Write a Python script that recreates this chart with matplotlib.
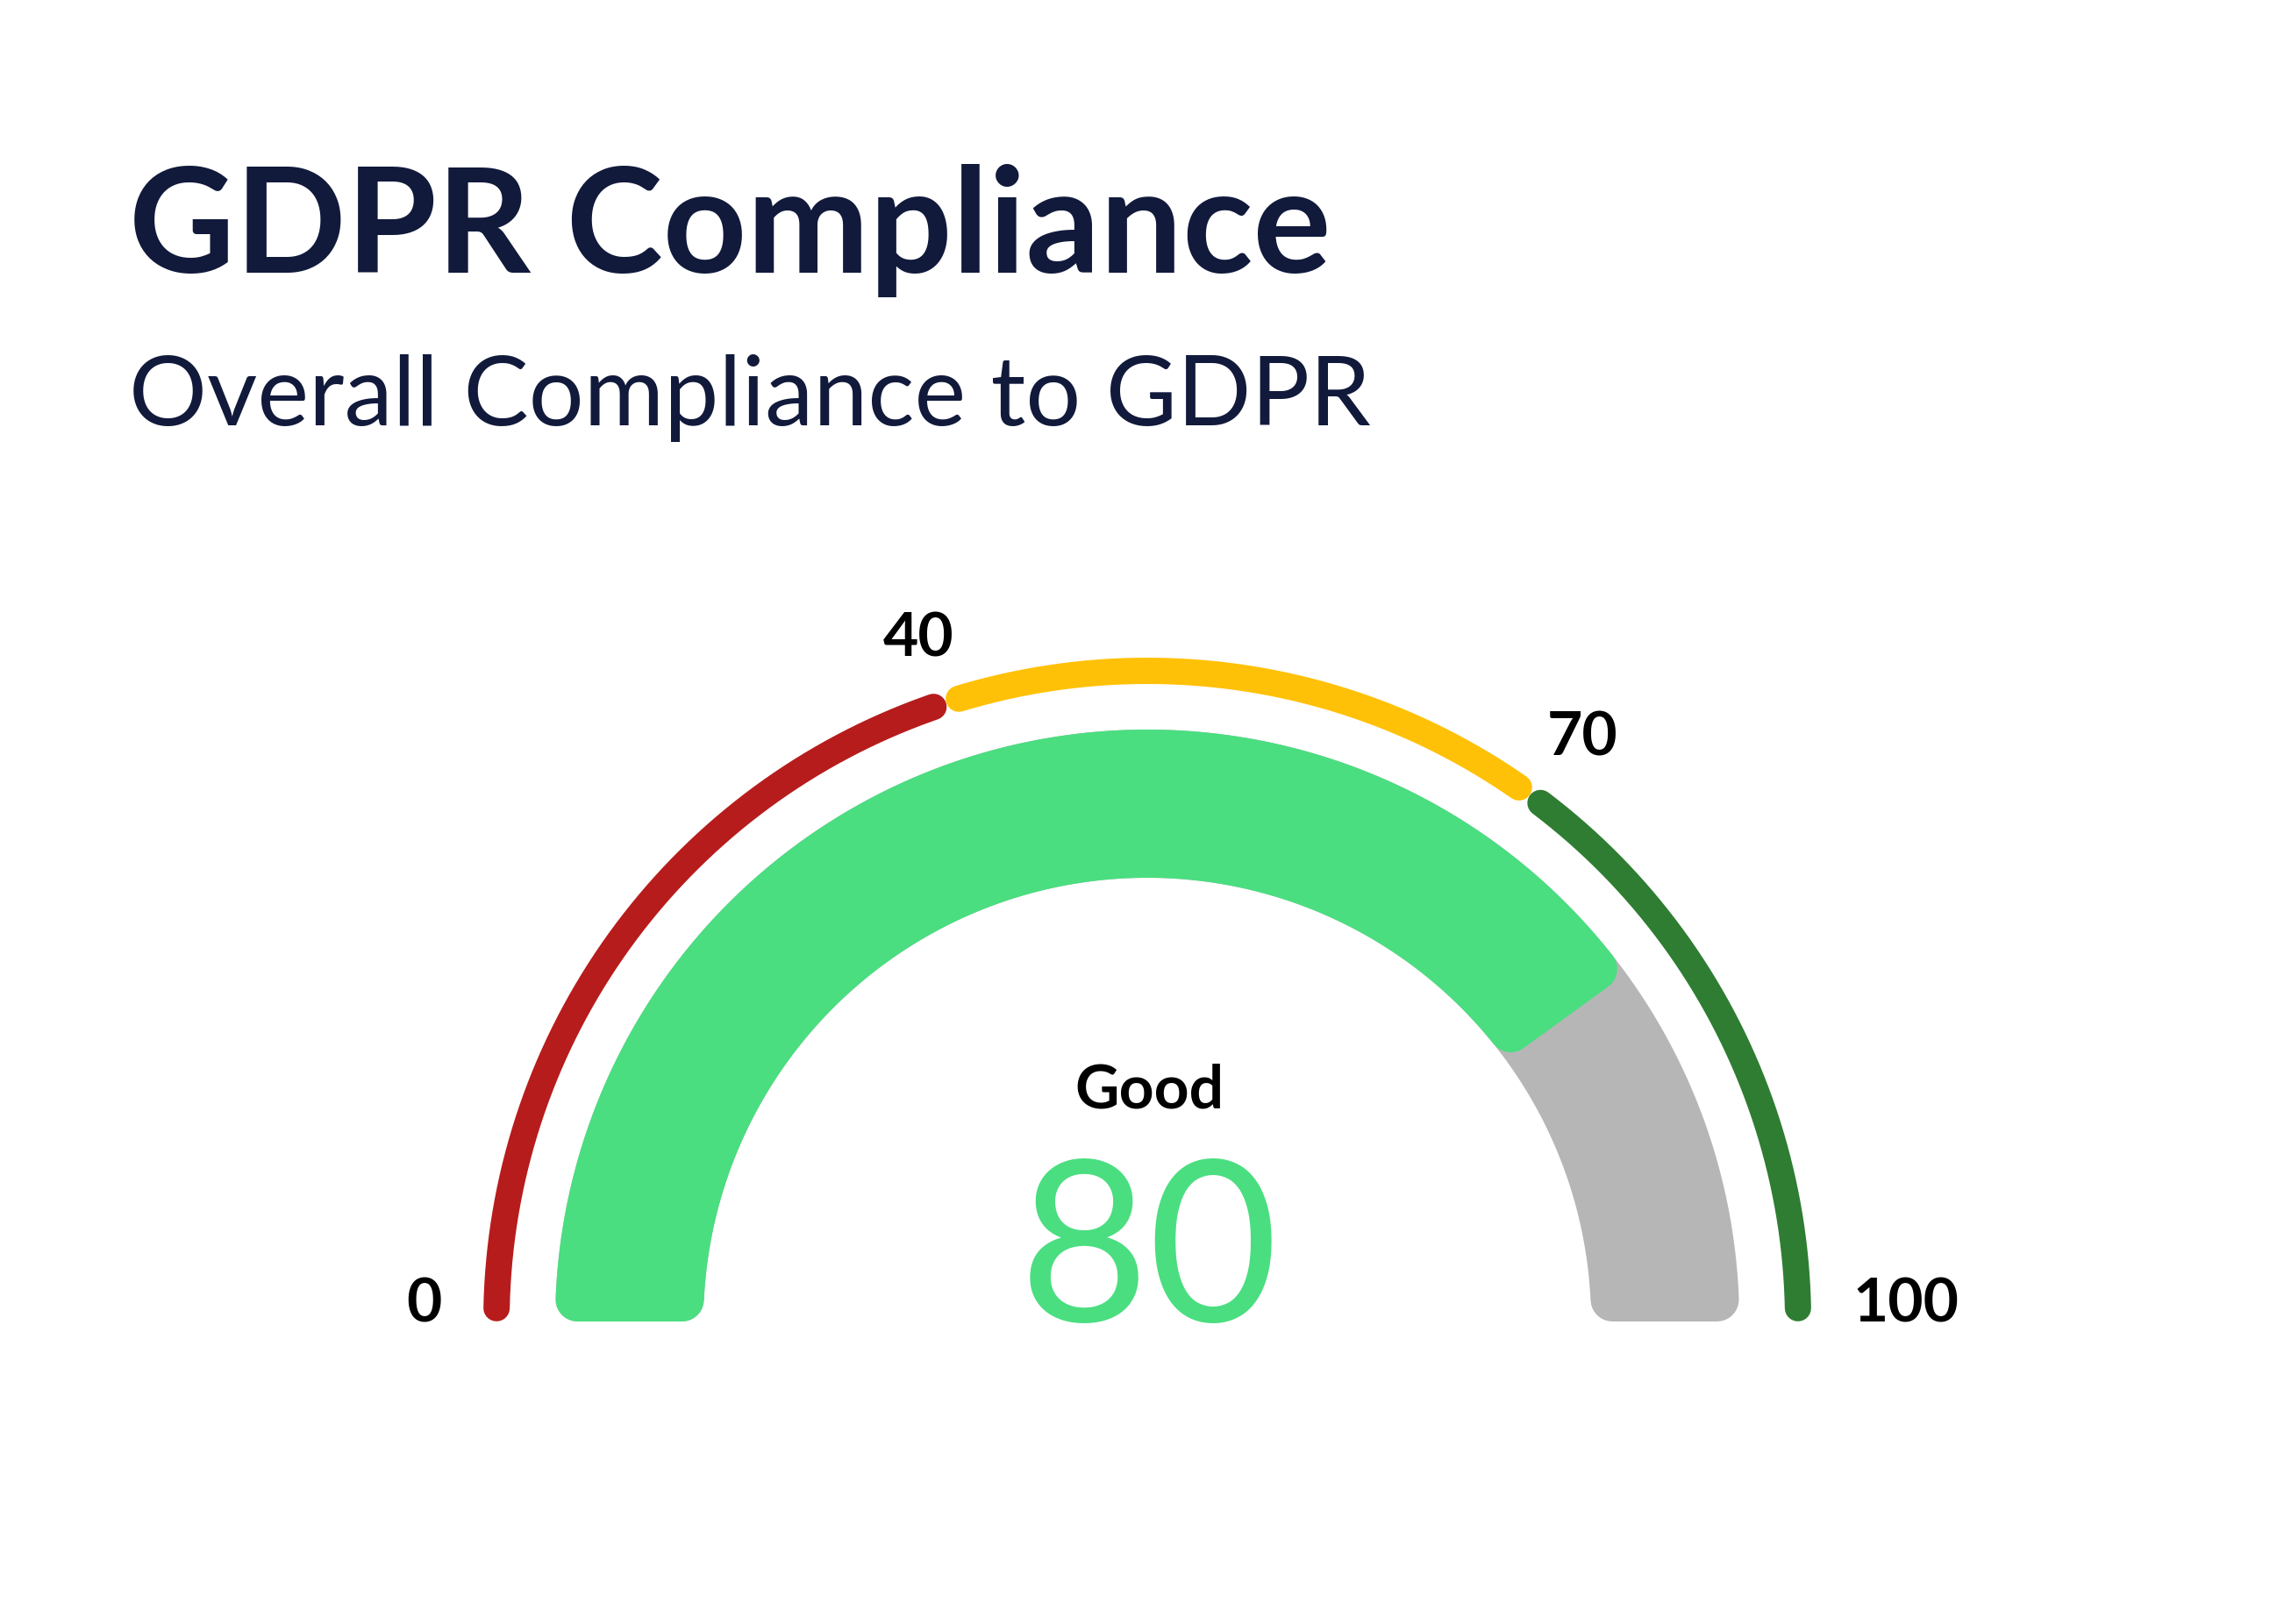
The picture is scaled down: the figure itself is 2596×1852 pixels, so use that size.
import numpy as np
import matplotlib
matplotlib.use("Agg")
import matplotlib.pyplot as plt
from matplotlib.patches import Polygon

# --- dati del grafico ---
title = "GDPR Compliance"
subtitle = "Overall Compliance to GDPR"
score = 80
score_label = "Good"
band_edges = [0, 40, 70, 100]
band_colors = ["#B71C1C", "#FFC107", "#2E7D32"]
tick_values = [0, 40, 70, 100]

W, H = 2596, 1852
fig = plt.figure(figsize=(W / 100, H / 100), dpi=100)
ax = fig.add_axes([0, 0, 1, 1])
ax.set_xlim(0, W)
ax.set_ylim(0, H)
ax.axis('off')

navy = "#111A3B"
fill_green = "#4ADE80"
track_grey = "#B6B6B6"

cx, cy = 1308, H - 1507
r_out, r_in = 675, 506
r_arc = 742
corner = 25
pad = 0.65


def ang(v):
    return np.pi * (1 - v / 100.0)


def rounded_sector(v0, v1, color):
    """Settore anulare con angoli arrotondati (poligono ridotto + bordo tondo)."""
    ro, ri = r_out - corner, r_in + corner
    t0o = ang(v0) - np.arcsin(corner / ro)
    t1o = ang(v1) + np.arcsin(corner / ro)
    t0i = ang(v0) - np.arcsin(corner / ri)
    t1i = ang(v1) + np.arcsin(corner / ri)
    to = np.linspace(t0o, t1o, 300)
    ti = np.linspace(t1i, t0i, 300)
    xs = np.concatenate([cx + ro * np.cos(to), cx + ri * np.cos(ti)])
    ys = np.concatenate([cy + ro * np.sin(to), cy + ri * np.sin(ti)])
    poly = Polygon(np.column_stack([xs, ys]), closed=True, facecolor=color,
                   edgecolor=color, linewidth=2 * corner * 0.72, joinstyle='round')
    ax.add_patch(poly)


# traccia grigia + valore
rounded_sector(0, 100, track_grey)
rounded_sector(0, score, fill_green)

# archi esterni colorati
for i, col in enumerate(band_colors):
    t = np.linspace(ang(band_edges[i] + pad), ang(band_edges[i + 1] - pad), 200)
    ax.plot(cx + r_arc * np.cos(t), cy + r_arc * np.sin(t), color=col,
            lw=30 * 0.72, solid_capstyle='round')

# etichette dei valori: ancoraggio orizzontale che segue l'angolo
renderer = fig.canvas.get_renderer()
for v in tick_values:
    t = ang(v)
    txt = ax.text(0, cy + 798 * np.sin(t), str(v), ha='left', va='baseline',
                  fontsize=50, fontweight='bold', family='Lato', color='black')
    w = txt.get_window_extent(renderer).width
    frac = 0.5 - 0.5 * np.cos(t)
    txt.set_x(cx + 804 * np.cos(t) - frac * w)

# testo centrale
ax.text(1310, H - 1263, score_label, ha='center', va='baseline', fontsize=50,
        fontweight='bold', family='Lato', color='black')
ax.text(1310, H - 1507, str(score), ha='center', va='baseline', fontsize=184,
        family='Lato', color=fill_green)

# titoli
ax.text(147, H - 311, title, ha='left', va='baseline', fontsize=120,
        fontweight='bold', family='Lato', color=navy)
ax.text(147, H - 485, subtitle, ha='left', va='baseline', fontsize=80,
        family='Lato', color=navy)

fig.savefig("out.png", dpi=100, facecolor='white')
